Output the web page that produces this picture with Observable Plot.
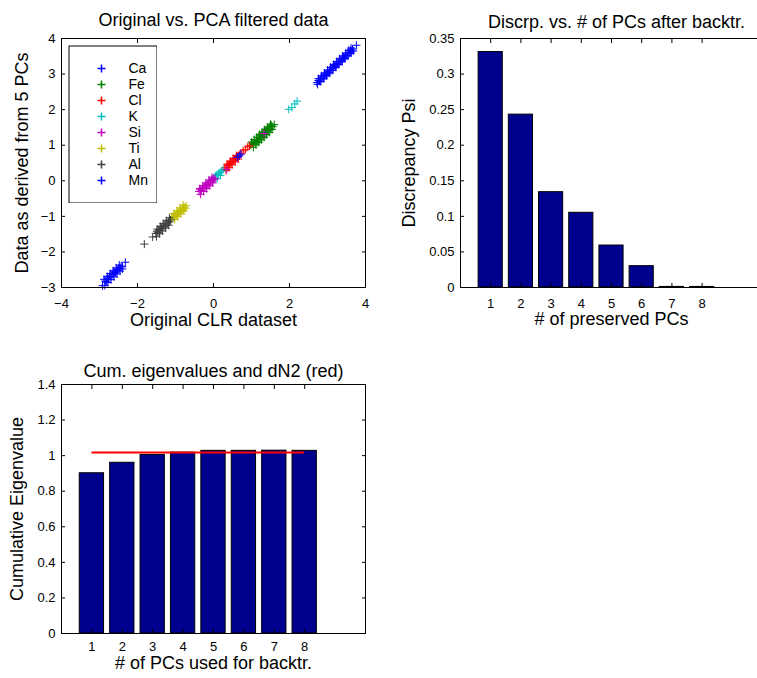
<!DOCTYPE html>
<html><head><meta charset="utf-8">
<script src="https://cdn.jsdelivr.net/npm/d3@7"></script>
<script src="https://cdn.jsdelivr.net/npm/@observablehq/plot@0.6"></script>
<style>
html,body{margin:0;padding:0;background:#fff;overflow:hidden;}
#fig{position:relative;width:757px;height:678px;overflow:hidden;background:#fff;}
#fig > svg{position:absolute;}
</style></head><body><div id="fig"></div>
<script>
// ---------- data ----------
const elements = ["Ca","Fe","Cl","K","Si","Ti","Al","Mn"];
const elementColors = ["#0000ff","#008000","#ff0000","#00bfbf","#bf00bf","#bfbf00","#404040","#0000ff"];

const ca = [[2.72,2.76],[2.76,2.82],[2.79,2.80],[2.82,2.88],[2.85,2.86],[2.88,2.94],[2.91,2.92],[2.94,3.00],[2.97,2.98],[3.00,3.06],[3.03,3.04],[3.06,3.12],[3.09,3.10],[3.12,3.18],[3.15,3.16],[3.18,3.24],[3.21,3.22],[3.24,3.30],[3.27,3.28],[3.30,3.36],[3.33,3.34],[3.36,3.42],[3.39,3.40],[3.42,3.48],[3.45,3.46],[3.48,3.54],[3.51,3.52],[3.54,3.60],[3.57,3.58],[3.60,3.66],[3.63,3.64],[3.66,3.70],[3.76,3.81],
  [2.74,2.71],[2.82,2.79],[2.90,2.87],[2.98,2.95],[3.06,3.03],[3.14,3.11],[3.22,3.19],[3.30,3.27],[3.38,3.35],[3.46,3.43],[3.54,3.51],[3.62,3.59],[3.68,3.65],
  [2.76,2.87],[2.84,2.95],[2.92,3.03],[3.00,3.11],[3.08,3.19],[3.16,3.27],[3.24,3.35],[3.32,3.43],[3.40,3.51],[3.48,3.59],[3.56,3.67],[3.62,3.73]];
const fe = [[0.98,1.00],[1.02,1.06],[1.05,1.02],[1.08,1.12],[1.10,1.06],[1.13,1.16],[1.15,1.10],[1.18,1.21],[1.20,1.15],[1.23,1.27],[1.25,1.20],[1.28,1.32],[1.30,1.25],[1.33,1.37],[1.35,1.30],[1.38,1.42],[1.40,1.35],[1.43,1.47],[1.45,1.41],[1.48,1.52],[1.50,1.46],[1.53,1.56],[1.56,1.52],[1.60,1.58],
  [1.05,0.94],[1.12,1.01],[1.19,1.08],[1.26,1.15],[1.33,1.22],[1.40,1.29],[1.47,1.36],[1.54,1.44],
  [1.00,1.09],[1.07,1.16],[1.14,1.23],[1.21,1.30],[1.28,1.37],[1.35,1.44],[1.42,1.51],[1.50,1.59]];
const cl = [[0.30,0.36],[0.34,0.38],[0.37,0.43],[0.40,0.44],[0.43,0.49],[0.46,0.50],[0.49,0.55],[0.52,0.56],[0.55,0.61],[0.58,0.62],[0.61,0.67],[0.64,0.68],[0.67,0.72],[0.72,0.78],[0.78,0.84],[0.84,0.88],[0.90,0.95],[0.95,0.98],
  [0.33,0.29],[0.41,0.37],[0.49,0.45],[0.57,0.53],[0.65,0.61],
  [0.36,0.47],[0.44,0.55],[0.52,0.63],[0.60,0.71]];
const k = [[-0.02,0.02],[0.02,0.06],[0.05,0.14],[0.09,0.17],[0.13,0.20],[0.17,0.24],[0.21,0.27],[0.25,0.31],[0.10,0.07],[0.18,0.15],[1.98,2.01],[2.06,2.06],[2.14,2.16],[2.20,2.24]];
const si = [[-0.38,-0.30],[-0.35,-0.24],[-0.32,-0.28],[-0.29,-0.20],[-0.26,-0.22],[-0.23,-0.14],[-0.20,-0.17],[-0.17,-0.09],[-0.14,-0.11],[-0.11,-0.03],[-0.08,-0.05],[-0.05,0.03],[-0.02,0.00],[0.01,0.07],[0.04,0.05],
  [-0.34,-0.38],[-0.26,-0.30],[-0.18,-0.22],[-0.10,-0.14],[-0.02,-0.06],
  [-0.36,-0.22],[-0.28,-0.14],[-0.20,-0.06],[-0.12,0.02],[-0.04,0.10],
  [0.35,0.32],[1.33,1.33]];
const ti = [[-1.10,-1.08],[-1.07,-1.00],[-1.04,-1.04],[-1.01,-0.95],[-0.98,-0.98],[-0.95,-0.89],[-0.92,-0.92],[-0.89,-0.84],[-0.86,-0.86],[-0.83,-0.79],[-0.80,-0.81],[-0.77,-0.74],[-0.74,-0.77],[-0.72,-0.70],
  [-1.02,-1.09],[-0.94,-1.01],[-0.86,-0.93],[-0.78,-0.85],
  [-1.04,-0.92],[-0.96,-0.84],[-0.88,-0.76],[-0.80,-0.68]];
const al = [[-1.82,-1.78],[-1.60,-1.58],[-1.52,-1.48],[-1.49,-1.42],[-1.46,-1.45],[-1.43,-1.37],[-1.40,-1.40],[-1.37,-1.31],[-1.34,-1.34],[-1.31,-1.25],[-1.28,-1.28],[-1.25,-1.19],[-1.22,-1.22],[-1.19,-1.14],[-1.16,-1.16],[-1.13,-1.10],
  [-1.50,-1.57],[-1.42,-1.49],[-1.34,-1.41],[-1.26,-1.33],[-1.18,-1.25],
  [-1.48,-1.36],[-1.40,-1.28],[-1.32,-1.20],[-1.24,-1.12],[-1.16,-1.04]];
const mn = [[-2.92,-2.95],[-2.85,-2.82],[-2.82,-2.84],[-2.79,-2.74],[-2.76,-2.77],[-2.73,-2.68],[-2.70,-2.70],[-2.67,-2.62],[-2.64,-2.64],[-2.61,-2.56],[-2.58,-2.58],[-2.55,-2.50],[-2.52,-2.52],[-2.49,-2.45],[-2.46,-2.46],[-2.43,-2.40],[-2.40,-2.42],[-2.32,-2.29],
  [-2.86,-2.94],[-2.78,-2.86],[-2.70,-2.78],[-2.62,-2.70],[-2.54,-2.62],[-2.46,-2.54],[-2.40,-2.48],
  [-2.88,-2.77],[-2.80,-2.69],[-2.72,-2.61],[-2.64,-2.53],[-2.56,-2.45],[-2.48,-2.37],
  [0.63,0.66],[0.68,0.70],[0.72,0.75]];
const seriesByElement = [ca, fe, cl, k, si, ti, al, mn];

const pcs = [1,2,3,4,5,6,7,8];
const discrepancy = [0.331,0.243,0.134,0.105,0.059,0.030,0.0008,0.0008];
const cumEigen = [0.901,0.960,1.004,1.017,1.027,1.027,1.028,1.027];
const dN2 = 1.017;

const scatterXTicks = [-4,-2,0,2,4];
const scatterYTicks = [-3,-2,-1,0,1,2,3,4];
const discYTicks = [0,0.05,0.1,0.15,0.2,0.25,0.3,0.35];
const eigYTicks = [0,0.2,0.4,0.6,0.8,1,1.2,1.4];

// ---------- helpers ----------
const FONT = "'Liberation Sans', Arial, Helvetica, sans-serif";
const barColor = "#00008f";
const plusSymbol = {draw(ctx, size) {
  const r = Math.sqrt(size / Math.PI);
  ctx.moveTo(-r, 0); ctx.lineTo(r, 0);
  ctx.moveTo(0, -r); ctx.lineTo(0, r);
}};
const numFmt = d => String(d);

function boxAxes(xt, yt, xf, yf, xPad) {
  return [
    Plot.frame({stroke: "black", strokeWidth: 1}),
    Plot.axisX(xt, {anchor: "bottom", tickSize: -4, tickPadding: xPad, tickFormat: xf, fontSize: 13, label: null}),
    Plot.axisX(xt, {anchor: "top", tickSize: -4, tickFormat: () => "", label: null}),
    Plot.axisY(yt, {anchor: "left", tickSize: -4, tickPadding: 10, tickFormat: yf, fontSize: 13, label: null}),
    Plot.axisY(yt, {anchor: "right", tickSize: -4, tickFormat: () => "", label: null})
  ];
}
function labels(title, xlab, ylab, o) {
  return [
    Plot.text([title], {frameAnchor: "top", dy: o.titleDy, dx: o.titleDx || 0, lineAnchor: "top", textAnchor: "middle", fontSize: 18}),
    Plot.text([xlab], {frameAnchor: "bottom", dy: o.xDy, lineAnchor: "top", textAnchor: "middle", fontSize: 18}),
    Plot.text([ylab], {frameAnchor: "left", dx: o.yDx, rotate: -90, lineAnchor: "top", textAnchor: "middle", fontSize: 18})
  ];
}
function place(svg, left, top) {
  svg.style.left = left + "px";
  svg.style.top = top + "px";
  document.getElementById("fig").appendChild(svg);
}

// ---------- plot 1: scatter ----------
const scatterData = elements.flatMap((el, i) => seriesByElement[i].map(([x, y]) => ({el, x, y})));
const p1 = Plot.plot({
  width: 380, height: 340,
  marginLeft: 61, marginRight: 15, marginTop: 38, marginBottom: 53,
  style: {fontFamily: FONT, color: "black", background: "transparent"},
  x: {domain: [-4, 4]},
  y: {domain: [-3, 4]},
  color: {domain: elements, range: elementColors},
  marks: [
    Plot.dot(scatterData, {x: "x", y: "y", stroke: "el", fill: "none", symbol: plusSymbol, r: 4, strokeWidth: 1}),
    ...boxAxes(scatterXTicks, scatterYTicks, undefined, undefined, 15),
    ...labels("Original vs. PCA filtered data", "Original CLR dataset", "Data as derived from 5 PCs", {titleDy: -25, xDy: 26, yDx: -46})
  ]
});
place(p1, 0, 0);

// legend
const leg = Plot.plot({
  width: 89, height: 158, margin: 0,
  style: {fontFamily: FONT, color: "black", background: "transparent"},
  y: {type: "point", domain: elements, range: [13, 145], axis: null},
  color: {domain: elements, range: elementColors},
  marks: [
    Plot.frame({fill: "white", stroke: "black", inset: 0.5}),
    Plot.dot(elements, {y: d => d, stroke: d => d, fill: "none", symbol: plusSymbol, r: 4, frameAnchor: "left", dx: 33}),
    Plot.text(elements, {y: d => d, text: d => d, frameAnchor: "left", dx: 60, textAnchor: "start", fontSize: 14})
  ]
});
place(leg, 68, 45);

// ---------- plot 2: discrepancy ----------
const discData = pcs.map((pc, i) => ({pc, v: discrepancy[i]}));
const p2 = Plot.plot({
  width: 390, height: 340,
  marginLeft: 80, marginRight: 8, marginTop: 38, marginBottom: 53,
  style: {fontFamily: FONT, color: "black", background: "transparent"},
  x: {domain: [0, 10]},
  y: {domain: [0, 0.35]},
  marks: [
    Plot.rect(discData, {x1: d => d.pc - 0.4, x2: d => d.pc + 0.4, y1: 0, y2: "v", fill: barColor, stroke: "black", strokeWidth: 1}),
    ...boxAxes(pcs, discYTicks, numFmt, numFmt, 15),
    ...labels("Discrp. vs. # of PCs after backtr.", "# of preserved PCs", "Discrepancy Psi", {titleDy: -23, titleDx: 5, xDy: 25, yDx: -58})
  ]
});
place(p2, 380, 0);

// ---------- plot 3: cumulative eigenvalues ----------
const eigData = pcs.map((pc, i) => ({pc, v: cumEigen[i]}));
const p3 = Plot.plot({
  width: 380, height: 332,
  marginLeft: 61, marginRight: 15, marginTop: 38, marginBottom: 45,
  style: {fontFamily: FONT, color: "black", background: "transparent"},
  x: {domain: [0, 10]},
  y: {domain: [0, 1.4]},
  marks: [
    Plot.rect(eigData, {x1: d => d.pc - 0.4, x2: d => d.pc + 0.4, y1: 0, y2: "v", fill: barColor, stroke: "black", strokeWidth: 1}),
    Plot.ruleY([dN2], {x1: pcs[0], x2: pcs[pcs.length - 1], stroke: "#ff0000", strokeWidth: 2}),
    ...boxAxes(pcs, eigYTicks, numFmt, numFmt, 12),
    ...labels("Cum. eigenvalues and dN2 (red)", "# of PCs used for backtr.", "Cumulative Eigenvalue", {titleDy: -20, xDy: 23, yDx: -51})
  ]
});
place(p3, 0, 346);
</script>
</body></html>
